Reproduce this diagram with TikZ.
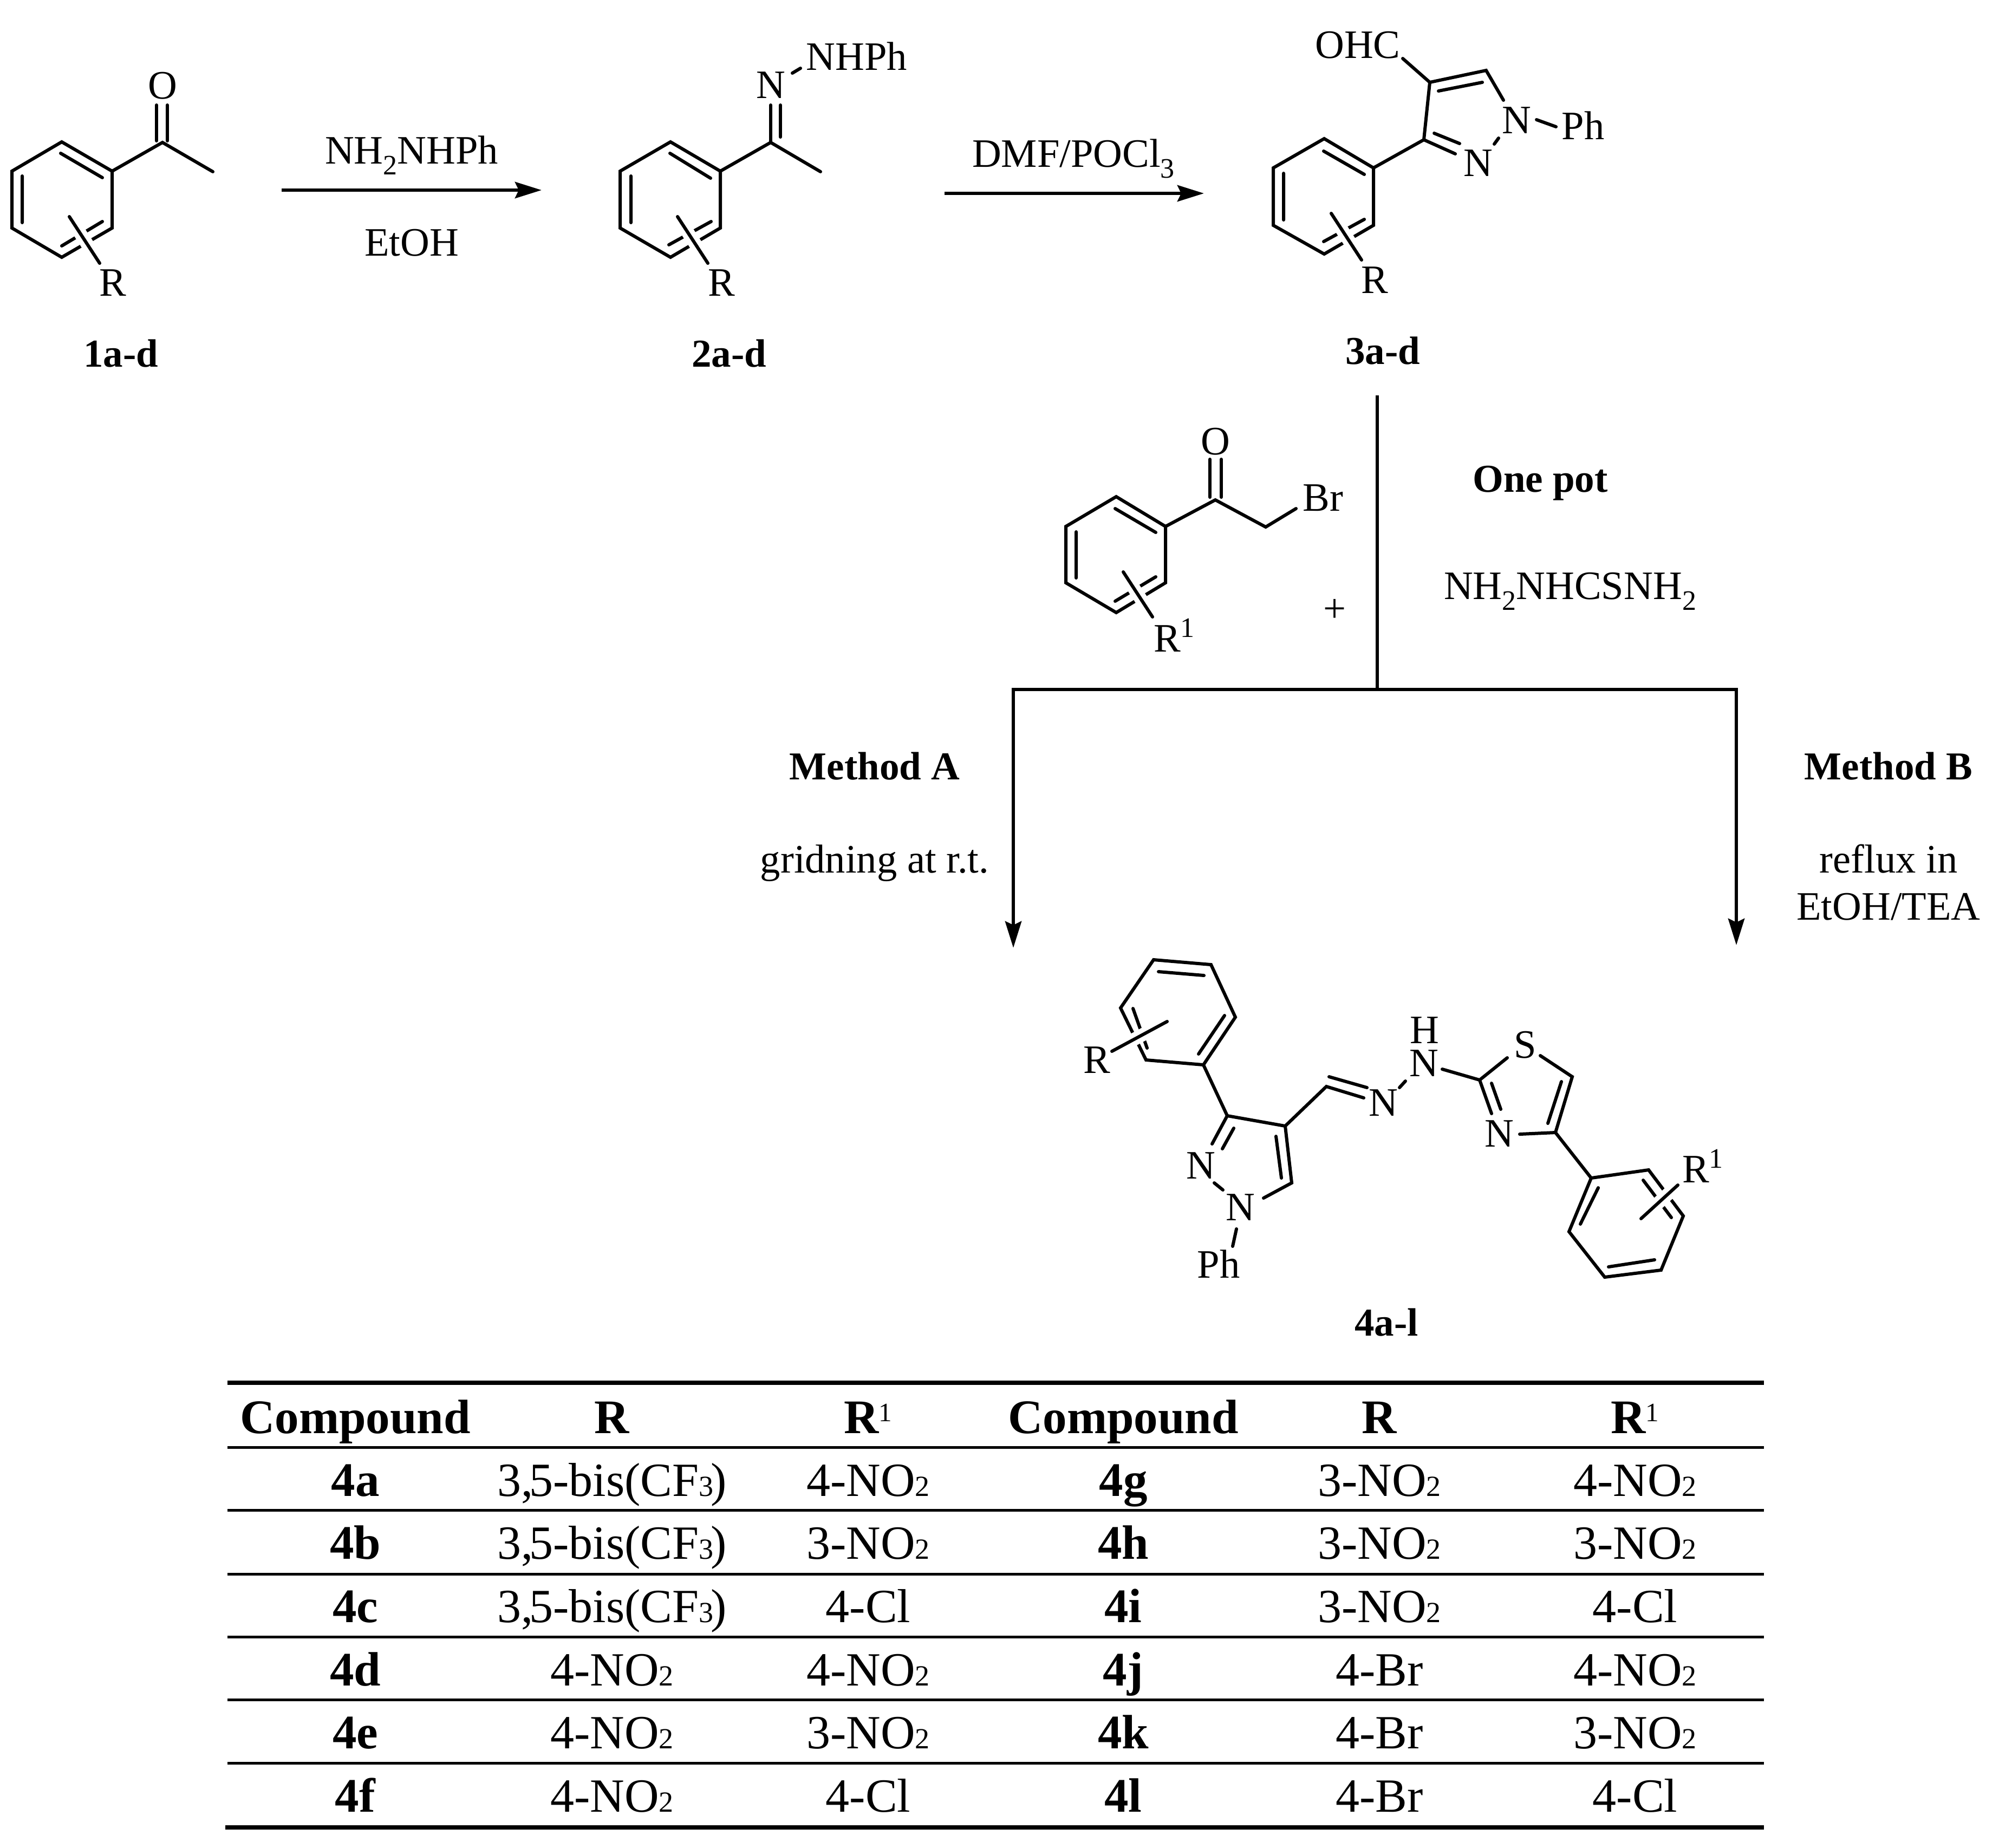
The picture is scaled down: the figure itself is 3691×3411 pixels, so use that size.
\documentclass[tikz,border=0pt]{standalone}
\usepackage{fontspec}
\setmainfont{Liberation Serif}
\usetikzlibrary{arrows.meta}
\newcommand{\chemsub}[1]{\raisebox{-.27em}{\fontsize{52}{52}\selectfont #1}}
\newcommand{\tabsub}[1]{{\fontsize{54}{54}\selectfont #1}}
\newcommand{\tabsup}[1]{\raisebox{22pt}{\fontsize{49}{49}\selectfont\mdseries #1}}
\newcommand{\rone}{R\raisebox{27pt}{\fontsize{52}{52}\selectfont 1}}
\newcommand{\bis}{3,\kern-7pt 5-bis(CF\tabsub{3}\kern-5pt)}
\tikzset{
  bond/.style={line width=6pt,line cap=round,line join=miter},
  subst/.style={bond,preaction={draw=white,line width=24pt,line cap=butt}},
  conn/.style={line width=6.5pt,line join=miter,-{Stealth[length=49pt,width=30pt,inset=7pt]}},
  plainconn/.style={line width=6.5pt},
  atom/.style={inner sep=0pt,anchor=base,font=\fontsize{74.5}{74.5}\selectfont},
  lab/.style={inner sep=0pt,anchor=base,font=\fontsize{73}{73}\bfseries\selectfont},
  tabr/.style={inner sep=0pt,anchor=base,font=\fontsize{88}{88}\selectfont},
  tabb/.style={inner sep=0pt,anchor=base,font=\fontsize{89}{89}\bfseries\selectfont},
  thick rule/.style={line width=8.8pt},
  thin rule/.style={line width=5pt},
}
\newcommand{\tabrow}[8]{%
  \node[tabb] (#1a) at (656,#2) {#3};
  \node[tabr] (#1b) at (1130,#2) {#4};
  \node[tabr] (#1c) at (1603,#2) {#5};
  \node[tabb] (#1d) at (2074,#2) {#6};
  \node[tabr] (#1e) at (2547,#2) {#7};
  \node[tabr] (#1f) at (3019,#2) {#8};
}
\begin{document}
\begin{tikzpicture}[x=1pt,y=-1pt]
\useasboundingbox (0,0) rectangle (3691,3411);
% --- compound 1
\draw[bond] (114,262)--(207,316)--(207,421)--(114,475)--(22,421)--(22,316)--cycle;
\draw[bond] (112,283)--(189,328) (41,325)--(41,411) (114,454)--(189,409);
\draw[bond] (207,316)--(300,263)--(393,317);
\draw[bond] (289,194)--(289,260) (309,194)--(309,260);
\draw[subst] (128,400)--(184,486);
\node[atom] (o1) at (300,182) {O};
\node[atom] (r1) at (208,546) {R};
\node[lab] (l1) at (223,677) {1a-d};
% --- arrow 1
\coordinate (a1s) at (520,351); \coordinate (a1e) at (1000,351);
\draw[conn] (a1s)--(a1e);
\node[atom] (a1t) at (760,302) {NH\chemsub{2}NHPh};
\node[atom] (a1b) at (760,472) {EtOH};
% --- compound 2
\draw[bond] (1238,262)--(1330,316)--(1330,421)--(1238,475)--(1145,421)--(1145,316)--cycle;
\draw[bond] (1237,283)--(1312,329) (1165,325)--(1165,411) (1235,452)--(1313,409);
\draw[bond] (1330,316)--(1423,263)--(1515,317);
\draw[bond] (1423,263)--(1423,194) (1441,194)--(1441,253);
\draw[bond] (1463,135)--(1478,126);
\draw[subst] (1251,400)--(1307,486);
\node[atom] (n2) at (1423,181) {N};
\node[atom] (nhph) at (1582,129) {NHPh};
\node[atom] (r2) at (1332,546) {R};
\node[lab] (l2) at (1346,677) {2a-d};
% --- arrow 2
\coordinate (a2s) at (1744,357); \coordinate (a2e) at (2223,357);
\draw[conn] (a2s)--(a2e);
\node[atom] (a2t) at (1982,308) {DMF/POCl\chemsub{3}};
% --- compound 3
\draw[bond] (2445,256)--(2536,310)--(2536,416)--(2445,469)--(2351,416)--(2351,310)--cycle;
\draw[bond] (2444,279)--(2519,322) (2370,320)--(2370,406) (2444,446)--(2519,405);
\draw[bond] (2536,310)--(2629,258)--(2640,152)--(2744,130)--(2776,185);
\draw[bond] (2629,258)--(2687,284) (2648,246)--(2695,265);
\draw[bond] (2656,168)--(2737,152);
\draw[bond] (2640,152)--(2590,108);
\draw[bond] (2767,255)--(2759,266);
\draw[bond] (2837,221)--(2873,234);
\draw[subst] (2458,394)--(2514,480);
\node[atom] (ohc) at (2507,107) {OHC};
\node[atom] (n3a) at (2800,246) {N};
\node[atom] (n3b) at (2729,325) {N};
\node[atom] (ph3) at (2923,257) {Ph};
\node[atom] (r3) at (2538,541) {R};
\node[lab] (l3) at (2553,672) {3a-d};
% --- branching arrows
\coordinate (vt) at (2543,730); \coordinate (vj) at (2543,1273);
\coordinate (hl) at (1871,1273); \coordinate (hr) at (3206,1273);
\coordinate (al) at (1871,1750); \coordinate (ar) at (3206,1745);
\draw[plainconn] (vt)--(vj);
\draw[conn] (vj)--(hl)--(al);
\draw[conn] (vj)--(hr)--(ar);
% --- bromoketone
\draw[bond] (2061,917)--(2152,972)--(2152,1076)--(2061,1131)--(1968,1076)--(1968,972)--cycle;
\draw[bond] (2059,939)--(2134,983) (1987,982)--(1987,1067) (2059,1110)--(2134,1065);
\draw[bond] (2152,972)--(2244,923)--(2337,973)--(2393,939);
\draw[bond] (2234,848)--(2234,918) (2255,848)--(2255,918);
\draw[subst] (2074,1056)--(2128,1139);
\node[atom] (ob) at (2244,839) {O};
\node[atom] (br) at (2443,943) {Br};
\node[atom,anchor=base west] (rb) at (2130,1203) {\rone};
\node[atom,anchor=center] (plus) at (2464,1127) {+};
\node[lab] (onepot) at (2844,908) {One pot};
\node[atom] (tsc) at (2899,1106) {NH\chemsub{2}NHCSNH\chemsub{2}};
\node[lab] (ma) at (1615,1439) {Method A};
\node[atom] (mat) at (1615,1611) {gridning at r.t.};
\node[lab] (mb) at (3487,1439) {Method B};
\node[atom] (mbt) at (3487,1611) {reflux in};
\node[atom] (mbu) at (3487,1698) {EtOH/TEA};
% --- compound 4
\draw[bond] (2130,1772)--(2236,1781)--(2281,1878)--(2222,1966)--(2116,1957)--(2069,1861)--cycle;
\draw[bond] (2139,1794)--(2223,1801) (2261,1875)--(2213,1946) (2092,1862)--(2118,1935);
\draw[subst] (2053,1941)--(2155,1886);
\draw[bond] (2222,1966)--(2266,2060)--(2373,2079)--(2385,2184)--(2333,2212);
\draw[bond] (2266,2060)--(2238,2112) (2278,2083)--(2257,2121);
\draw[bond] (2356,2098)--(2366,2175);
\draw[bond] (2242,2184)--(2258,2197);
\draw[bond] (2283,2269)--(2276,2301);
\draw[bond] (2373,2079)--(2449,2006)--(2518,2027) (2454,1988)--(2524,2008);
\draw[bond] (2584,2008)--(2595,1996);
\draw[bond] (2663,1974)--(2732,1994)--(2783,1953);
\draw[bond] (2844,1949)--(2903,1988)--(2872,2091)--(2806,2094);
\draw[bond] (2883,1997)--(2858,2074);
\draw[bond] (2732,1994)--(2754,2056) (2754,2000)--(2771,2048);
\draw[bond] (2872,2091)--(2938,2175);
\draw[bond] (2938,2175)--(3044,2160)--(3108,2245)--(3067,2345)--(2963,2358)--(2897,2274)--cycle;
\draw[bond] (2951,2193)--(2918,2260) (2970,2339)--(3055,2326) (3034,2179)--(3086,2248);
\draw[subst] (3030,2250)--(3098,2188);
\node[atom] (r4) at (2025,1981) {R};
\node[atom] (n4a) at (2217,2176) {N};
\node[atom] (n4b) at (2290,2253) {N};
\node[atom] (ph4) at (2250,2359) {Ph};
\node[atom] (n4c) at (2554,2060) {N};
\node[atom] (n4d) at (2629,1987) {N};
\node[atom] (h4) at (2630,1926) {H};
\node[atom] (s4) at (2816,1953) {S};
\node[atom] (n4e) at (2768,2117) {N};
\node[atom,anchor=base west] (r4b) at (3106,2183) {\rone};
\node[lab] (l4) at (2560,2466) {4a-l};
% --- table
\draw[thick rule] (420,2553)--(3257,2553);
\draw[thin rule] (420,2672)--(3257,2672);
\draw[thin rule] (420,2788)--(3257,2788);
\draw[thin rule] (420,2906)--(3257,2906);
\draw[thin rule] (420,3022)--(3257,3022);
\draw[thin rule] (420,3138)--(3257,3138);
\draw[thin rule] (420,3255)--(3257,3255);
\draw[thick rule] (416,3374)--(3257,3374);
\node[tabb] (ha) at (656,2646) {Compound};
\node[tabb] (hb) at (1130,2646) {R};
\node[tabb] (hc) at (1603,2646) {R\tabsup{1}};
\node[tabb] (hd) at (2074,2646) {Compound};
\node[tabb] (he) at (2547,2646) {R};
\node[tabb] (hf) at (3019,2646) {R\tabsup{1}};
\tabrow{ra}{2762}{4a}{\bis}{4-NO\tabsub{2}}{4g}{3-NO\tabsub{2}}{4-NO\tabsub{2}}
\tabrow{rb}{2878}{4b}{\bis}{3-NO\tabsub{2}}{4h}{3-NO\tabsub{2}}{3-NO\tabsub{2}}
\tabrow{rc}{2995}{4c}{\bis}{4-Cl}{4i}{3-NO\tabsub{2}}{4-Cl}
\tabrow{rd}{3112}{4d}{4-NO\tabsub{2}}{4-NO\tabsub{2}}{4j}{4-Br}{4-NO\tabsub{2}}
\tabrow{re}{3228}{4e}{4-NO\tabsub{2}}{3-NO\tabsub{2}}{4k}{4-Br}{3-NO\tabsub{2}}
\tabrow{rf}{3345}{4f}{4-NO\tabsub{2}}{4-Cl}{4l}{4-Br}{4-Cl}
\end{tikzpicture}
\end{document}
